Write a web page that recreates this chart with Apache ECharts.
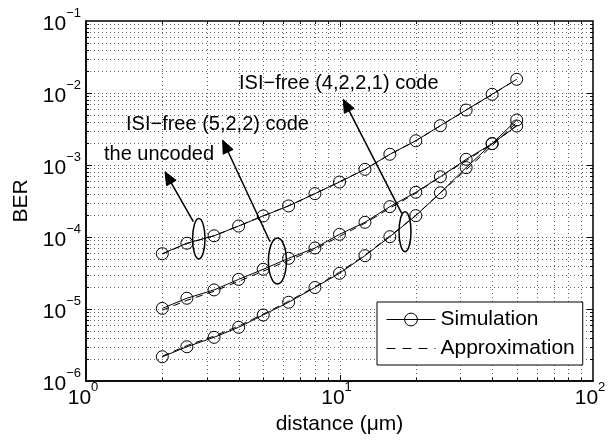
<!DOCTYPE html>
<html><head><meta charset="utf-8">
<script src="https://cdn.jsdelivr.net/npm/echarts@6/dist/echarts.min.js"></script>
<style>html,body{margin:0;padding:0;background:#fff}#c{width:614px;height:444px}</style>
</head><body><div id="c"></div>
<script>
// ---------- data ----------
const distance = [2, 2.5, 3.2, 4, 5, 6.3, 8, 10, 12.6, 15.8, 20, 25, 31.6, 40, 50];
const uncodedSim  = [5.86e-5, 8.2e-5, 1.04e-4, 1.42e-4, 1.96e-4, 2.70e-4, 4.0e-4, 5.8e-4, 8.7e-4, 1.41e-3, 2.17e-3, 3.52e-3, 5.8e-3, 9.6e-3, 1.55e-2];
const uncodedApx  = [5.8e-5, 8.1e-5, 1.04e-4, 1.42e-4, 1.97e-4, 2.72e-4, 4.0e-4, 5.85e-4, 8.7e-4, 1.40e-3, 2.17e-3, 3.5e-3, 5.8e-3, 9.5e-3, 1.55e-2];
const code522Sim  = [1.02e-5, 1.41e-5, 1.84e-5, 2.58e-5, 3.56e-5, 5.06e-5, 7.03e-5, 1.09e-4, 1.6e-4, 2.64e-4, 4.18e-4, 6.87e-4, 1.2e-3, 1.98e-3, 3.48e-3];
const code522Apx  = [0.96e-5, 1.32e-5, 1.76e-5, 2.42e-5, 3.35e-5, 4.75e-5, 6.75e-5, 1.02e-4, 1.55e-4, 2.52e-4, 4.05e-4, 6.9e-4, 1.15e-3, 1.95e-3, 3.55e-3];
const code4221Sim = [2.17e-6, 2.99e-6, 4.04e-6, 5.57e-6, 8.26e-6, 1.24e-5, 1.99e-5, 3.13e-5, 5.5e-5, 1.01e-4, 1.98e-4, 4.12e-4, 9.2e-4, 1.98e-3, 4.22e-3];
const code4221Apx = [2.22e-6, 3.1e-6, 4.2e-6, 5.8e-6, 8.5e-6, 1.28e-5, 2.03e-5, 3.25e-5, 5.6e-5, 1.03e-4, 2.0e-4, 4.1e-4, 8.6e-4, 1.85e-3, 3.9e-3];

const xMin = 1, xMax = 100, yMin = 1e-6, yMax = 1e-1;
const xDecades = [1, 10];
const yDecades = [1e-6, 1e-5, 1e-4, 1e-3, 1e-2];
const minorMult = [1, 2, 3, 4, 5, 6, 7, 8, 9];

const labelUncoded = 'the uncoded';
const label522 = 'ISI\u2212free (5,2,2) code';
const label4221 = 'ISI\u2212free (4,2,2,1) code';

// annotation anchors in data coordinates
const arrows = [
  {from: [2.65, 1.63e-4], to: [2.049, 8.07e-4]},
  {from: [5.32, 8.6e-5],  to: [3.46, 2.22e-3]},
  {from: [17.6, 2.13e-4], to: [10.35, 8.18e-3]}
];
const ellipseCenters = [[2.786, 9.47e-5], [5.69, 4.64e-5], [18.13, 1.186e-4]];

// ---------- chart ----------
const F = '"Liberation Sans", Arial, Helvetica, sans-serif';
const xGridVals = [];
xDecades.forEach(d => minorMult.forEach(m => { const v = d * m; if (v > xMin) xGridVals.push(v); }));
const yGridVals = [];
yDecades.forEach(d => minorMult.forEach(m => { const v = d * m; if (v > yMin * 1.0001) yGridVals.push(v); }));

function isMajor(v) { const l = Math.log10(v); return Math.abs(l - Math.round(l)) < 1e-6; }
const gridStroke = {stroke: '#666', lineWidth: 1, lineDash: [1, 3]};

function xGridItem(params, api) {
  const v = api.value(0);
  const cs = params.coordSys;
  const x = Math.round(api.coord([v, yMin])[0]) + 0.5;
  const L = isMajor(v) ? 6 : 3;
  const top = cs.y, bot = cs.y + cs.height;
  return {type: 'group', children: [
    {type: 'line', shape: {x1: x, y1: top, x2: x, y2: bot}, style: gridStroke},
    {type: 'line', shape: {x1: x, y1: bot, x2: x, y2: bot - L}, style: {stroke: '#000', lineWidth: 1}},
    {type: 'line', shape: {x1: x, y1: top, x2: x, y2: top + L}, style: {stroke: '#000', lineWidth: 1}}
  ]};
}
function yGridItem(params, api) {
  const v = api.value(1);
  const cs = params.coordSys;
  const y = Math.round(api.coord([xMin, v])[1]) + 0.5;
  const L = isMajor(v) ? 6 : 3;
  const l = cs.x, r = cs.x + cs.width;
  return {type: 'group', children: [
    {type: 'line', shape: {x1: l, y1: y, x2: r, y2: y}, style: gridStroke},
    {type: 'line', shape: {x1: l, y1: y, x2: l + L, y2: y}, style: {stroke: '#000', lineWidth: 1}},
    {type: 'line', shape: {x1: r, y1: y, x2: r - L, y2: y}, style: {stroke: '#000', lineWidth: 1}}
  ]};
}

function powLabel(v) {
  const e = Math.round(Math.log10(v));
  const s = e < 0 ? '\u2212' + (-e) : String(e);
  return '{b|10}{s|' + s + '}';
}
const rich = {
  b: {fontSize: 21, fontFamily: F, color: '#000', lineHeight: 28, verticalAlign: 'bottom'},
  s: {fontSize: 13, fontFamily: F, color: '#000', lineHeight: 13, verticalAlign: 'top'}
};

const simStyle = {
  type: 'line', name: 'Simulation', symbol: 'circle', symbolSize: 12,
  lineStyle: {color: '#000', width: 1},
  itemStyle: {color: 'rgba(0,0,0,0)', borderColor: '#000', borderWidth: 1},
  z: 3, silent: true
};
const apxStyle = {
  type: 'line', name: 'Approximation', symbol: 'none',
  lineStyle: {color: '#000', width: 1, type: [7, 5]},
  itemStyle: {color: '#000'},
  z: 2, silent: true
};
const zip = (ys) => distance.map((x, i) => [x, ys[i]]);

const option = {
  animation: false,
  backgroundColor: '#fff',
  grid: {left: 86, right: 21, top: 21, bottom: 63, show: true, borderColor: '#000', borderWidth: 1.5, outerBoundsMode: 'none', containLabel: false},
  xAxis: {
    type: 'log', logBase: 10, min: xMin, max: xMax,
    name: 'distance (\u03bcm)', nameLocation: 'middle', nameGap: 16,
    nameTextStyle: {fontSize: 21, fontFamily: F, color: '#000'},
    axisLine: {show: true, lineStyle: {color: '#000', width: 1.5}},
    axisTick: {show: false}, splitLine: {show: false},
    axisLabel: {formatter: powLabel, rich: rich, margin: 0, padding: [0, 6, 0, 0], showMinLabel: true, showMaxLabel: true}
  },
  yAxis: {
    type: 'log', logBase: 10, min: yMin, max: yMax,
    name: 'BER', nameLocation: 'middle', nameGap: 50,
    nameTextStyle: {fontSize: 21, fontFamily: F, color: '#000'},
    axisLine: {show: true, lineStyle: {color: '#000', width: 1.5}},
    axisTick: {show: false}, splitLine: {show: false},
    axisLabel: {formatter: powLabel, rich: rich, margin: 5, showMinLabel: true, showMaxLabel: true}
  },
  legend: {
    orient: 'vertical', left: 377, top: 302,
    padding: [7, 8, 6, 9], itemGap: 8, itemWidth: 49, itemHeight: 16,
    borderColor: '#000', borderWidth: 1, backgroundColor: '#fff',
    textStyle: {fontSize: 21, fontFamily: F, color: '#000'},
    selectedMode: false,
    data: [
      {name: 'Simulation', itemStyle: {color: 'rgba(0,0,0,0)', borderColor: '#000', borderWidth: 1}, lineStyle: {color: '#000', width: 1, type: 'solid'}},
      {name: 'Approximation', itemStyle: {color: 'rgba(0,0,0,0)', borderColor: 'rgba(0,0,0,0)', borderWidth: 0}, lineStyle: {color: '#000', width: 1, type: [9, 7]}}
    ]
  },
  series: [
    {type: 'custom', name: 'xgrid', renderItem: xGridItem, data: xGridVals.map(v => [v, yMin]), encode: {x: 0, y: 1}, z: 0, silent: true},
    {type: 'custom', name: 'ygrid', renderItem: yGridItem, data: yGridVals.map(v => [xMin, v]), encode: {x: 0, y: 1}, z: 0, silent: true},
    Object.assign({}, apxStyle, {data: zip(uncodedApx)}),
    Object.assign({}, apxStyle, {data: zip(code522Apx)}),
    Object.assign({}, apxStyle, {data: zip(code4221Apx)}),
    Object.assign({}, simStyle, {data: zip(uncodedSim)}),
    Object.assign({}, simStyle, {data: zip(code522Sim)}),
    Object.assign({}, simStyle, {data: zip(code4221Sim)})
  ]
};

const chart = echarts.init(document.getElementById('c'), null, {renderer: 'canvas'});
chart.setOption(option);

// ---------- annotations ----------
const px = p => chart.convertToPixel({gridIndex: 0}, p);
const graphics = [];
const txtStyle = (t) => ({text: t, fontSize: 20, fontFamily: F, fill: '#000', align: 'left', verticalAlign: 'middle'});
graphics.push({type: 'text', x: 239, y: 83, style: txtStyle(label4221), z: 10});
graphics.push({type: 'text', x: 126, y: 124, style: txtStyle(label522), z: 10});
graphics.push({type: 'text', x: 104, y: 154, style: txtStyle(labelUncoded), z: 10});
const ellipseR = [[6.2, 20.3], [9, 23], [6, 20]];
ellipseCenters.forEach((c, i) => {
  const p = px(c);
  graphics.push({type: 'ellipse', shape: {cx: p[0], cy: p[1], rx: ellipseR[i][0], ry: ellipseR[i][1]},
    style: {fill: null, stroke: '#000', lineWidth: 1.5}, z: 10});
});
arrows.forEach(a => {
  const b = px(a.from), t = px(a.to);
  const dx = t[0] - b[0], dy = t[1] - b[1];
  const len = Math.hypot(dx, dy);
  const ux = dx / len, uy = dy / len, nx = -uy, ny = ux;
  const L = 13, W = 5.5;
  const bx = t[0] - ux * L, by = t[1] - uy * L;
  graphics.push({type: 'line', shape: {x1: b[0], y1: b[1], x2: bx + ux * 2, y2: by + uy * 2}, style: {stroke: '#000', lineWidth: 1.5}, z: 10});
  graphics.push({type: 'polygon', shape: {points: [[t[0], t[1]], [bx + nx * W, by + ny * W], [bx - nx * W, by - ny * W]]}, style: {fill: '#000', stroke: '#000', lineWidth: 1}, z: 10});
});
chart.setOption({graphic: graphics});
</script>
</body></html>
